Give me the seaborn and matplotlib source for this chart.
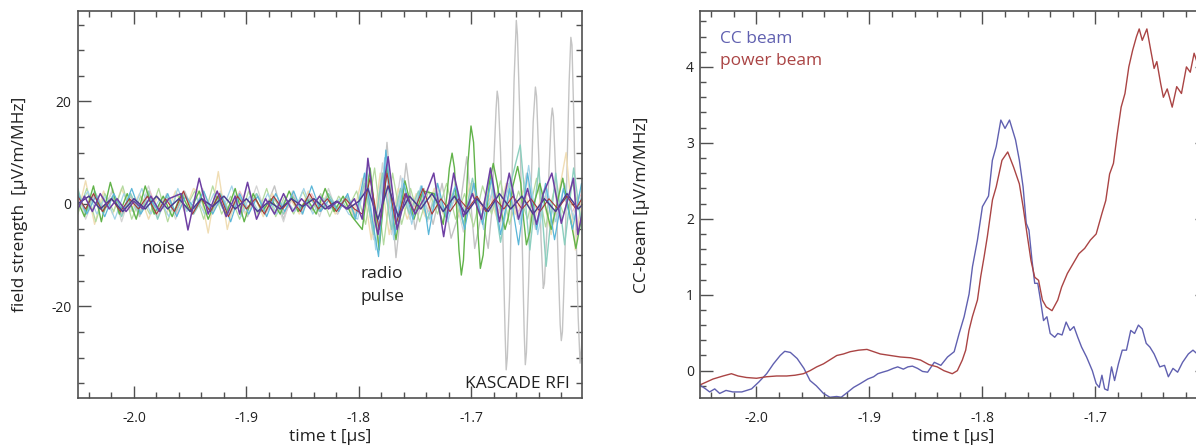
import matplotlib
matplotlib.use("Agg")
import matplotlib.pyplot as plt
import seaborn as sns
import pandas as pd
from matplotlib.ticker import MultipleLocator, FormatStrFormatter

# ---- left panel: single-antenna traces (t in us, field strength) ----
GREY = [(-2.050, 1.0), (-2.043, -1.5), (-2.035, 2.0), (-2.027, -1.0), (-2.019, 2.5), (-2.011, -2.0),
        (-2.003, 1.5), (-1.995, -2.5), (-1.987, 2.0), (-1.979, -1.0), (-1.971, 1.5), (-1.963, -2.0),
        (-1.955, 2.5), (-1.947, -1.5), (-1.939, 1.0), (-1.931, -2.0), (-1.923, 2.0), (-1.915, -1.5),
        (-1.907, 1.0), (-1.899, -2.5), (-1.891, 2.0), (-1.883, -1.0), (-1.875, 3.5), (-1.867, -3.0),
        (-1.859, 2.0), (-1.851, -1.5), (-1.843, 1.0), (-1.835, -1.5), (-1.827, 1.5), (-1.819, -2.0),
        (-1.811, 1.5), (-1.804, -3.0), (-1.797, 2.0), (-1.790, 6.0), (-1.782, -8.0), (-1.775, 12.0),
        (-1.767, -10.5), (-1.758, 7.9), (-1.750, -5.0), (-1.742, 3.0), (-1.734, -4.0), (-1.726, 4.0),
        (-1.718, -6.7), (-1.711, -2.0), (-1.704, 9.2), (-1.697, -8.7), (-1.691, -2.0), (-1.685, -8.7),
        (-1.682, -2.0), (-1.680, 8.0), (-1.678, 18.5), (-1.677, 22.0), (-1.676, 20.5), (-1.674, 10.0),
        (-1.672, -6.0), (-1.670, -25.0), (-1.669, -32.4), (-1.668, -30.0), (-1.666, -18.0), (-1.664, 3.0),
        (-1.662, 24.0), (-1.660, 35.8), (-1.659, 33.0), (-1.657, 18.0), (-1.655, -5.0), (-1.653, -25.0),
        (-1.652, -31.4), (-1.651, -29.0), (-1.649, -15.0), (-1.647, 2.0), (-1.645, 16.0), (-1.643, 22.8),
        (-1.642, 21.0), (-1.640, 9.0), (-1.638, -7.0), (-1.636, -16.5), (-1.635, -15.5), (-1.633, -6.0),
        (-1.631, 6.0), (-1.629, 16.5), (-1.628, 18.7), (-1.627, 17.0), (-1.625, 6.0), (-1.623, -10.0),
        (-1.621, -23.5), (-1.620, -26.7), (-1.619, -25.0), (-1.617, -12.0), (-1.615, 6.0), (-1.613, 24.0),
        (-1.6115, 32.5), (-1.6105, 31.0), (-1.609, 18.0), (-1.607, -4.0), (-1.605, -22.0),
        (-1.6033, -31.1), (-1.602, -28.0), (-1.600, -15.0)]

SILVER = [(-2.050, 2.5), (-2.043, -3.0), (-2.035, 1.5), (-2.027, -2.0), (-2.019, 3.0), (-2.011, -3.5),
          (-2.003, 2.0), (-1.995, -1.5), (-1.987, 3.5), (-1.979, -2.5), (-1.971, 2.0), (-1.963, -3.0),
          (-1.955, 1.5), (-1.947, -2.0), (-1.939, 3.0), (-1.931, -1.5), (-1.923, 2.5), (-1.915, -3.0),
          (-1.907, 2.0), (-1.899, -1.5), (-1.891, 3.5), (-1.883, -2.0), (-1.875, 1.5), (-1.867, -3.5),
          (-1.859, 2.5), (-1.851, -2.0), (-1.843, 1.5), (-1.835, -2.5), (-1.827, 3.0), (-1.819, -2.0),
          (-1.811, 1.5), (-1.803, -2.0), (-1.795, 5.0), (-1.787, -7.0), (-1.779, 8.0), (-1.771, -6.0),
          (-1.763, 5.5), (-1.755, -3.0), (-1.747, 2.0), (-1.739, -3.5), (-1.731, 4.0), (-1.723, -2.5),
          (-1.715, 2.0), (-1.707, -5.5), (-1.699, 4.0), (-1.691, -3.0), (-1.683, 3.5), (-1.675, -5.0),
          (-1.667, 4.0), (-1.659, -3.0), (-1.651, 6.0), (-1.643, -5.0), (-1.635, 3.0), (-1.627, -4.0),
          (-1.619, 5.0), (-1.611, -3.5), (-1.603, 2.5)]

PINK = [(-2.050, 1.0), (-2.042, -1.5), (-2.034, 2.0), (-2.026, -1.0), (-2.018, 1.5), (-2.010, -2.0),
        (-2.002, 1.0), (-1.994, -1.0), (-1.986, 2.5), (-1.978, -1.5), (-1.970, 1.0), (-1.962, -2.0),
        (-1.954, 1.5), (-1.946, -1.0), (-1.938, 2.0), (-1.930, -1.5), (-1.922, 1.0), (-1.914, -2.0),
        (-1.906, 2.5), (-1.898, -1.0), (-1.890, 1.5), (-1.882, -1.5), (-1.874, 1.0), (-1.866, -2.0),
        (-1.858, 1.5), (-1.850, -1.0), (-1.842, 2.0), (-1.834, -1.5), (-1.826, 1.0), (-1.818, -1.0),
        (-1.810, 1.5), (-1.802, -2.0), (-1.794, 4.0), (-1.786, -5.0), (-1.778, 6.0), (-1.770, -4.0),
        (-1.762, 3.0), (-1.754, -2.0), (-1.746, 2.0), (-1.738, -1.5), (-1.730, 1.5), (-1.722, -2.0),
        (-1.714, 1.0), (-1.706, -1.5), (-1.698, 2.0), (-1.690, -1.0), (-1.682, 1.5), (-1.674, -2.0),
        (-1.666, 1.0), (-1.658, -1.5), (-1.650, 2.0), (-1.642, -1.0), (-1.634, 1.5), (-1.626, -2.0),
        (-1.618, 1.0), (-1.610, -1.5), (-1.602, 2.0)]

BEIGE = [(-2.050, -2.0), (-2.043, 4.5), (-2.035, -4.0), (-2.027, 2.5), (-2.019, -2.0), (-2.011, 3.0),
         (-2.003, -1.5), (-1.995, 2.0), (-1.987, -3.0), (-1.979, 1.5), (-1.971, -2.0), (-1.963, 2.5),
         (-1.955, -1.5), (-1.947, 3.0), (-1.941, 2.0), (-1.934, -5.7), (-1.925, 6.3), (-1.917, -5.0),
         (-1.909, 2.0), (-1.901, -2.0), (-1.893, 1.5), (-1.885, -2.5), (-1.877, 2.0), (-1.869, -1.5),
         (-1.861, 1.0), (-1.853, -2.0), (-1.845, 2.5), (-1.837, -1.0), (-1.829, 1.5), (-1.821, -2.0),
         (-1.813, 1.0), (-1.805, -2.0), (-1.797, 5.0), (-1.789, -7.0), (-1.781, 6.0), (-1.773, -6.0),
         (-1.765, 3.0), (-1.757, -3.0), (-1.749, 2.0), (-1.741, -2.5), (-1.733, 3.0), (-1.725, -2.0),
         (-1.717, 2.0), (-1.709, -3.0), (-1.701, 4.0), (-1.693, -2.0), (-1.685, 2.5), (-1.677, -3.0),
         (-1.669, 4.0), (-1.661, -2.0), (-1.653, 3.0), (-1.645, -4.0), (-1.637, 2.0), (-1.629, -6.0),
         (-1.6157, 10.0), (-1.6075, -9.0), (-1.600, 5.0)]

LIGHTGREEN = [(-2.050, -2.0), (-2.042, 3.0), (-2.034, -3.5), (-2.026, 2.0), (-2.018, -1.5), (-2.010, 3.5),
              (-2.002, -3.0), (-1.994, 1.5), (-1.986, -2.0), (-1.978, 3.0), (-1.970, -3.5), (-1.962, 2.0),
              (-1.954, -1.0), (-1.946, 2.5), (-1.938, -3.0), (-1.930, 3.5), (-1.922, -2.0), (-1.914, 1.5),
              (-1.906, -3.0), (-1.898, 2.5), (-1.890, -2.0), (-1.882, 3.0), (-1.874, -2.5), (-1.866, 1.5),
              (-1.858, -2.0), (-1.850, 2.5), (-1.842, -1.5), (-1.834, 2.0), (-1.826, -2.5), (-1.818, 1.5),
              (-1.810, -1.0), (-1.802, 2.5), (-1.794, -4.0), (-1.786, 7.0), (-1.778, -8.0), (-1.770, 6.0),
              (-1.762, -4.0), (-1.754, 3.0), (-1.746, -3.5), (-1.738, 2.5), (-1.730, -2.0), (-1.722, 4.0),
              (-1.714, -3.0), (-1.706, 2.0), (-1.698, -4.5), (-1.690, 3.5), (-1.682, -2.0), (-1.674, 4.5),
              (-1.666, -4.0), (-1.658, 2.5), (-1.650, -3.0), (-1.642, 5.0), (-1.634, -4.5), (-1.626, 3.0),
              (-1.618, -2.0), (-1.610, 4.0), (-1.602, -3.0)]

LIGHTBLUE = [(-2.050, -1.0), (-2.041, 2.5), (-2.033, -2.0), (-2.025, 1.5), (-2.017, -3.0), (-2.009, 2.0),
             (-2.001, -1.5), (-1.993, 3.0), (-1.985, -2.0), (-1.977, 1.0), (-1.969, -2.5), (-1.961, 3.0),
             (-1.953, -1.5), (-1.945, 1.5), (-1.937, -2.0), (-1.929, 2.0), (-1.921, -1.0), (-1.913, 3.5),
             (-1.905, -2.5), (-1.897, 1.5), (-1.889, -1.5), (-1.881, 2.0), (-1.873, -2.0), (-1.865, 1.0),
             (-1.857, -1.5), (-1.849, 3.0), (-1.841, -2.0), (-1.833, 1.5), (-1.825, -1.0), (-1.817, 1.0),
             (-1.809, -2.0), (-1.801, -3.0), (-1.793, 7.0), (-1.785, -9.0), (-1.777, 9.0), (-1.769, -7.0),
             (-1.761, 5.0), (-1.753, -4.0), (-1.745, 3.5), (-1.737, -3.0), (-1.729, 2.0), (-1.721, -3.5),
             (-1.713, 3.0), (-1.705, -2.0), (-1.697, 4.0), (-1.689, -5.0), (-1.681, 3.0), (-1.673, -2.0),
             (-1.665, 5.0), (-1.657, -4.0), (-1.649, 7.5), (-1.641, -6.0), (-1.633, 3.0), (-1.625, -3.5),
             (-1.617, 4.0), (-1.609, -3.0), (-1.601, 2.0)]

TEAL = [(-2.050, 3.0), (-2.043, -2.0), (-2.035, 2.5), (-2.027, -1.5), (-2.019, 1.5), (-2.011, -2.5),
        (-2.003, 2.0), (-1.995, -2.0), (-1.987, 2.5), (-1.979, -3.0), (-1.971, 1.5), (-1.963, -1.5),
        (-1.955, 2.0), (-1.947, -2.0), (-1.939, 1.0), (-1.931, -1.5), (-1.923, 2.0), (-1.915, -2.0),
        (-1.907, 1.5), (-1.899, -1.0), (-1.891, 2.0), (-1.883, -1.5), (-1.875, 1.0), (-1.867, -2.0),
        (-1.859, 1.5), (-1.851, -1.0), (-1.843, 1.0), (-1.835, -1.5), (-1.827, 2.0), (-1.819, -1.0),
        (-1.811, 1.5), (-1.803, -2.5), (-1.795, 4.0), (-1.787, -6.0), (-1.779, 6.0), (-1.771, -5.0),
        (-1.763, 3.0), (-1.755, -2.0), (-1.747, 2.5), (-1.739, -3.0), (-1.731, 2.0), (-1.723, -2.5),
        (-1.715, 3.0), (-1.707, -4.0), (-1.699, 5.0), (-1.691, -3.0), (-1.683, 6.0), (-1.674, -7.5),
        (-1.665, 4.0), (-1.6565, 11.5), (-1.648, -9.0), (-1.640, 7.0), (-1.6335, -12.2), (-1.625, 6.0),
        (-1.617, -8.0), (-1.609, 7.0), (-1.601, -6.0), (-1.598, 0.0)]

GREEN = [(-2.050, 0.5), (-2.044, -2.5), (-2.036, 3.5), (-2.029, -3.5), (-2.021, 4.2), (-2.013, -2.0),
         (-2.006, 2.0), (-1.998, -3.0), (-1.990, 3.5), (-1.982, -2.0), (-1.974, 1.5), (-1.966, -2.5),
         (-1.958, 2.0), (-1.950, -1.5), (-1.942, 2.5), (-1.934, -3.0), (-1.926, 1.5), (-1.918, -2.0),
         (-1.910, 3.0), (-1.902, -3.5), (-1.894, 2.0), (-1.886, -1.5), (-1.878, 1.0), (-1.870, -2.0),
         (-1.862, 2.5), (-1.854, -1.5), (-1.846, 1.0), (-1.838, -2.0), (-1.830, 3.0), (-1.822, -1.5),
         (-1.814, 1.5), (-1.806, -2.5), (-1.797, -5.0), (-1.790, 7.0), (-1.782, -9.0), (-1.775, 7.5),
         (-1.767, -7.0), (-1.759, 4.5), (-1.751, -3.0), (-1.743, 2.5), (-1.733, 2.0), (-1.725, -4.0),
         (-1.722, 1.0), (-1.7195, 7.0), (-1.7171, 9.9), (-1.715, 7.0), (-1.713, -1.0), (-1.711, -9.0),
         (-1.7089, -13.9), (-1.707, -11.0), (-1.705, -2.0), (-1.703, 8.0), (-1.7003, 15.2), (-1.698, 12.0),
         (-1.696, 3.0), (-1.694, -6.0), (-1.692, -12.6), (-1.6895, -10.0), (-1.687, -3.0), (-1.684, 4.0),
         (-1.6805, 7.9), (-1.677, 4.0), (-1.673, -2.0), (-1.670, -5.0), (-1.667, -2.5), (-1.663, 3.5),
         (-1.6588, 7.3), (-1.656, 4.0), (-1.6535, -3.0), (-1.651, -8.0), (-1.648, -5.5), (-1.645, -0.5),
         (-1.6391, 4.0), (-1.629, -5.0), (-1.6187, 5.0), (-1.607, -8.7), (-1.598, 2.0)]

CYAN = [(-2.050, 2.0), (-2.042, -2.0), (-2.034, 1.5), (-2.026, -2.5), (-2.018, 2.0), (-2.010, -1.5),
        (-2.002, 3.0), (-1.994, -2.0), (-1.986, 1.0), (-1.978, -1.5), (-1.970, 2.0), (-1.962, -2.5),
        (-1.954, 1.5), (-1.946, -1.0), (-1.938, 2.5), (-1.930, -2.0), (-1.922, 1.5), (-1.914, -3.5),
        (-1.906, 2.0), (-1.898, -2.0), (-1.890, 1.5), (-1.882, -2.5), (-1.874, 2.0), (-1.866, -1.5),
        (-1.858, 2.5), (-1.850, -2.0), (-1.842, 3.5), (-1.834, -1.5), (-1.826, 1.0), (-1.818, -1.5),
        (-1.810, 2.0), (-1.803, -3.0), (-1.795, 6.0), (-1.7825, -10.3), (-1.776, 10.5), (-1.768, -6.0),
        (-1.760, 4.0), (-1.752, -3.0), (-1.744, 3.5), (-1.738, -6.0), (-1.730, 4.0), (-1.722, -3.0),
        (-1.714, 3.5), (-1.706, -5.0), (-1.698, 4.0), (-1.690, -4.0), (-1.682, 5.0), (-1.674, -6.0),
        (-1.666, 3.0), (-1.658, -8.0), (-1.650, 6.0), (-1.642, -5.0), (-1.634, 4.0), (-1.626, -7.0),
        (-1.618, 3.0), (-1.610, -5.0), (-1.602, 4.0), (-1.598, 1.0)]

DARKRED = [(-2.050, 1.5), (-2.043, -1.0), (-2.036, 2.0), (-2.028, -1.5), (-2.020, 1.0), (-2.012, -1.5),
           (-2.004, 1.0), (-1.996, -1.0), (-1.988, 1.5), (-1.980, -2.0), (-1.972, 1.0), (-1.964, -1.5),
           (-1.956, 2.5), (-1.948, -2.0), (-1.940, 1.0), (-1.932, -1.5), (-1.924, 2.0), (-1.916, -2.5),
           (-1.908, 1.5), (-1.900, -1.0), (-1.892, 1.0), (-1.884, -2.0), (-1.876, 1.5), (-1.868, -1.0),
           (-1.860, 1.0), (-1.852, -1.5), (-1.844, 2.0), (-1.836, -1.0), (-1.828, 1.0), (-1.820, -1.5),
           (-1.812, 1.0), (-1.804, -1.0), (-1.797, -2.0), (-1.790, 5.0), (-1.782, -5.0), (-1.775, 6.0),
           (-1.767, -4.0), (-1.759, 2.0), (-1.751, -1.5), (-1.743, 3.0), (-1.735, -2.0), (-1.727, 1.0),
           (-1.719, -1.5), (-1.711, 1.0), (-1.703, -1.0), (-1.695, 1.5), (-1.687, -1.5), (-1.679, 1.0),
           (-1.671, -1.0), (-1.663, 1.5), (-1.655, -1.0), (-1.647, 1.0), (-1.639, -1.5), (-1.631, 1.0),
           (-1.623, -1.0), (-1.615, 1.5), (-1.607, -1.0), (-1.599, 2.0)]

INDIGO = [(-2.050, 0.0), (-2.040, 1.5), (-2.030, -1.0), (-2.020, 1.0), (-2.010, -1.5), (-2.000, 1.0),
          (-1.990, -1.0), (-1.980, 1.5), (-1.970, -1.0), (-1.960, 1.0), (-1.950, -1.5), (-1.940, 1.0),
          (-1.930, -0.5), (-1.920, 1.5), (-1.910, -1.0), (-1.900, 1.0), (-1.890, -1.5), (-1.880, 0.5),
          (-1.870, -1.0), (-1.860, 1.0), (-1.850, -0.5), (-1.840, 1.0), (-1.830, -1.0), (-1.820, 0.5),
          (-1.810, -1.0), (-1.800, 0.5), (-1.792, 3.0), (-1.783, -3.0), (-1.774, 3.5), (-1.765, -2.5),
          (-1.755, 1.5), (-1.745, -1.0), (-1.735, 2.0), (-1.725, -1.5), (-1.715, 1.5), (-1.705, -2.0),
          (-1.695, 1.0), (-1.685, -1.5), (-1.675, 2.0), (-1.665, -1.0), (-1.655, 1.5), (-1.645, -2.0),
          (-1.635, 1.0), (-1.625, -1.5), (-1.615, 2.0), (-1.605, -1.0), (-1.598, 0.5)]

PURPLE = [(-2.050, -1.0), (-2.044, 1.5), (-2.037, -1.5), (-2.030, 2.0), (-2.022, -1.0), (-2.015, 1.0),
          (-2.007, -1.5), (-2.000, 0.5), (-1.992, -1.0), (-1.985, 1.5), (-1.977, -1.5), (-1.969, 1.0),
          (-1.958, 2.0), (-1.952, -5.1), (-1.942, 5.0), (-1.934, -2.0), (-1.926, 2.5), (-1.918, -2.5),
          (-1.910, 1.5), (-1.906, -2.0), (-1.899, 4.2), (-1.891, -3.0), (-1.883, 1.0), (-1.875, -2.0),
          (-1.867, 2.0), (-1.859, -1.5), (-1.851, 1.0), (-1.843, -1.0), (-1.835, 1.5), (-1.827, -1.0),
          (-1.819, 0.5), (-1.811, -1.0), (-1.804, 1.0), (-1.797, -3.0), (-1.794, 3.0), (-1.792, 8.9),
          (-1.789, 4.0), (-1.786, -3.0), (-1.783, -6.0), (-1.780, -2.0), (-1.777, 5.0), (-1.774, 9.2),
          (-1.771, 4.0), (-1.766, -5.0), (-1.758, 2.0), (-1.750, -2.0), (-1.742, 1.0), (-1.7334, 6.0),
          (-1.7246, -6.4), (-1.7157, 6.0), (-1.707, -2.5), (-1.699, 2.0), (-1.691, -3.0), (-1.683, 7.0),
          (-1.675, -3.5), (-1.6663, 6.0), (-1.658, -3.0), (-1.650, 3.0), (-1.642, -4.0), (-1.636, 2.0),
          (-1.6284, 6.0), (-1.620, -3.8), (-1.6092, 5.0), (-1.6053, -6.0), (-1.598, 2.0)]

# drawing order, colour, line width
TRACES = [("grey", GREY, "#c4c4c4", 1.0), ("silver", SILVER, "#d4d4d4", 0.9),
          ("pink", PINK, "#efbcc8", 0.9), ("beige", BEIGE, "#f0ddb4", 1.0),
          ("lightgreen", LIGHTGREEN, "#b3da9f", 0.9), ("lightblue", LIGHTBLUE, "#a3d4e8", 0.9),
          ("teal", TEAL, "#8ccfbf", 1.0), ("green", GREEN, "#62b34a", 1.0),
          ("cyan", CYAN, "#5ab6d8", 0.9), ("darkred", DARKRED, "#a83636", 0.8),
          ("indigo", INDIGO, "#4a3d8f", 1.1), ("purple", PURPLE, "#6e3fa3", 1.1)]

# ---- right panel: beams ----
CC_T = [-2.050, -2.045, -2.0415, -2.037, -2.0326, -2.027, -2.021, -2.013, -2.0044, -1.998, -1.991,
        -1.985, -1.979, -1.975, -1.970, -1.964, -1.958, -1.9526, -1.947, -1.9407, -1.935, -1.929,
        -1.925, -1.919, -1.914, -1.9081, -1.9015, -1.8963, -1.8926, -1.8884, -1.8838, -1.879, -1.875,
        -1.870, -1.866, -1.862, -1.8574, -1.853, -1.8485, -1.8426, -1.8368, -1.8309, -1.825, -1.8206,
        -1.8162, -1.8118, -1.8088, -1.8044, -1.800, -1.7946, -1.7912, -1.7878, -1.7837, -1.780, -1.776,
        -1.7707, -1.7673, -1.764, -1.7612, -1.7588, -1.7561, -1.7537, -1.751, -1.7486, -1.7459, -1.7429,
        -1.740, -1.736, -1.7333, -1.7295, -1.7259, -1.7224, -1.719, -1.7156, -1.7122, -1.7078, -1.7027,
        -1.6993, -1.6966, -1.6942, -1.6918, -1.689, -1.6857, -1.683, -1.6796, -1.6762, -1.6725, -1.6687,
        -1.6653, -1.6619, -1.6585, -1.655, -1.6517, -1.648, -1.643, -1.6388, -1.6354, -1.6313, -1.6272,
        -1.6228, -1.6177, -1.6136, -1.609, -1.600]
CC_V = [-0.19, -0.24, -0.28, -0.24, -0.30, -0.26, -0.28, -0.28, -0.24, -0.15, -0.04,
        0.09, 0.20, 0.255, 0.24, 0.16, 0.03, -0.13, -0.20, -0.30, -0.35, -0.34,
        -0.35, -0.28, -0.22, -0.17, -0.11, -0.08, -0.04, -0.02, 0.0, 0.03, 0.05,
        0.02, 0.05, 0.06, 0.03, -0.01, -0.02, 0.11, 0.07, 0.18, 0.25, 0.49,
        0.71, 1.01, 1.37, 1.72, 2.16, 2.30, 2.77, 2.95, 3.30, 3.19, 3.30,
        3.04, 2.77, 2.42, 1.94, 1.85, 1.45, 1.15, 1.15, 0.93, 0.66, 0.71,
        0.49, 0.44, 0.49, 0.47, 0.64, 0.53, 0.58, 0.44, 0.31, 0.18, 0.0,
        -0.17, -0.22, -0.06, -0.24, -0.26, 0.05, -0.13, 0.09, 0.27, 0.27, 0.53,
        0.49, 0.60, 0.55, 0.36, 0.31, 0.22, 0.05, 0.07, -0.08, 0.03, -0.02,
        0.11, 0.22, 0.27, 0.21, 0.20]

POW_T = [-2.0504, -2.0444, -2.0385, -2.0296, -2.0222, -2.0163, -2.0089, -2.000, -1.9911, -1.9822,
         -1.9733, -1.9659, -1.9585, -1.9526, -1.9467, -1.9407, -1.9348, -1.9289, -1.923, -1.917,
         -1.9096, -1.9022, -1.8963, -1.8904, -1.8815, -1.8726, -1.8637, -1.8548, -1.8474, -1.84,
         -1.8341, -1.8267, -1.8222, -1.8178, -1.8148, -1.8119, -1.8089, -1.8044, -1.8015, -1.7985,
         -1.7956, -1.7911, -1.7878, -1.7827, -1.7776, -1.7724, -1.7673, -1.764, -1.7605, -1.757,
         -1.7537, -1.7503, -1.7469, -1.7435, -1.7384, -1.7333, -1.7299, -1.7248, -1.7197, -1.7146,
         -1.7095, -1.7044, -1.6993, -1.6942, -1.6908, -1.6874, -1.684, -1.6806, -1.6772, -1.6738,
         -1.6704, -1.667, -1.6636, -1.6612, -1.6585, -1.6544, -1.651, -1.648, -1.6456, -1.6422,
         -1.6398, -1.6364, -1.632, -1.628, -1.6238, -1.6194, -1.616, -1.6126, -1.609, -1.600]
POW_V = [-0.19, -0.15, -0.11, -0.07, -0.04, -0.07, -0.09, -0.10, -0.08, -0.07,
         -0.07, -0.06, -0.04, 0.0, 0.05, 0.09, 0.145, 0.20, 0.22, 0.25,
         0.27, 0.28, 0.25, 0.22, 0.20, 0.18, 0.17, 0.14, 0.08, 0.05,
         0.0, -0.04, 0.0, 0.14, 0.27, 0.53, 0.71, 0.93, 1.24, 1.50,
         1.77, 2.25, 2.42, 2.77, 2.88, 2.68, 2.46, 2.16, 1.80, 1.45,
         1.23, 1.19, 0.93, 0.84, 0.79, 0.93, 1.10, 1.28, 1.41, 1.54,
         1.61, 1.72, 1.80, 2.07, 2.24, 2.59, 2.73, 3.12, 3.47, 3.65,
         4.0, 4.22, 4.40, 4.50, 4.35, 4.50, 4.22, 3.98, 4.07, 3.78,
         3.60, 3.71, 3.47, 3.74, 3.65, 4.0, 3.93, 4.18, 4.02, 4.10]

X_LIM = (-2.05, -1.6015)
TXT = "#222222"
SPINE = "#505050"

sns.set_style("ticks")
plt.rcParams["font.family"] = ["Open Sans", "DejaVu Sans"]
plt.rcParams["axes.unicode_minus"] = False

fig = plt.figure(figsize=(11.96, 4.46), dpi=100)
ax1 = fig.add_axes([0.0650, 0.1076, 0.4217, 0.8684])
ax2 = fig.add_axes([0.5853, 0.1076, 0.4236, 0.8684])

rows = []
for name, pts, col, lw in TRACES:
    for t, v in pts:
        rows.append((name, t, v))
left = pd.DataFrame(rows, columns=["trace", "t", "v"])

for name, pts, col, lw in TRACES:
    sns.lineplot(data=left[left.trace == name], x="t", y="v", color=col, lw=lw,
                 sort=False, estimator=None, ax=ax1, legend=False)

beams = pd.DataFrame({"t": CC_T + POW_T, "v": CC_V + POW_V,
                      "beam": ["CC beam"] * len(CC_T) + ["power beam"] * len(POW_T)})
BEAM_COLORS = {"CC beam": "#6060b0", "power beam": "#aa4444"}
sns.lineplot(data=beams, x="t", y="v", hue="beam", palette=BEAM_COLORS, lw=1.0,
             sort=False, estimator=None, ax=ax2, legend=False)

ax1.set_ylim(-37.9, 37.7)
ax2.set_ylim(-0.36, 4.74)
ax1.yaxis.set_major_locator(MultipleLocator(20))
ax1.yaxis.set_minor_locator(MultipleLocator(5))
ax2.yaxis.set_major_locator(MultipleLocator(1))
ax2.yaxis.set_minor_locator(MultipleLocator(0.2))

for ax in (ax1, ax2):
    ax.set_xlim(*X_LIM)
    ax.xaxis.set_major_locator(MultipleLocator(0.1))
    ax.xaxis.set_minor_locator(MultipleLocator(0.02))
    ax.xaxis.set_major_formatter(FormatStrFormatter("%.1f"))
    ax.yaxis.set_major_formatter(FormatStrFormatter("%d"))
    ax.tick_params(which="both", direction="in", top=True, right=True, color=SPINE,
                   width=1.0, labelsize=10, labelcolor=TXT)
    ax.tick_params(which="major", length=9)
    ax.tick_params(which="minor", length=4.5)
    ax.tick_params(axis="x", pad=9)
    ax.tick_params(axis="y", pad=4.5)
    for s in ax.spines.values():
        s.set_color(SPINE)
        s.set_linewidth(1.2)
    ax.set_xlabel("time t [µs]", fontsize=12.5, color=TXT)
    ax.xaxis.set_label_coords(0.5, -0.1007)
    ax.xaxis.label.set_va("center")

ax1.set_ylabel("field strength  [µV/m/MHz]", fontsize=12.5, color=TXT)
ax2.set_ylabel("CC-beam [µV/m/MHz]", fontsize=12.5, color=TXT)
for ax in (ax1, ax2):
    ax.yaxis.set_label_coords(-0.1144, 0.5)
    ax.yaxis.label.set_va("center")

ax1.text(-1.9934, -9.6, "noise", fontsize=12.5, color=TXT, ha="left", va="baseline")
ax1.text(-1.7988, -14.4, "radio", fontsize=12.5, color=TXT, ha="left", va="baseline")
ax1.text(-1.7988, -18.9, "pulse", fontsize=12.5, color=TXT, ha="left", va="baseline")
ax1.text(-1.6122, -35.9, "KASCADE RFI", fontsize=12.5, color=TXT, ha="right", va="baseline")

ax2.text(-2.0324, 4.316, "CC beam", fontsize=12.5, color=BEAM_COLORS["CC beam"],
         ha="left", va="baseline")
ax2.text(-2.0324, 4.02, "power beam", fontsize=12.5, color=BEAM_COLORS["power beam"],
         ha="left", va="baseline")

fig.savefig("out.png", dpi=100)
